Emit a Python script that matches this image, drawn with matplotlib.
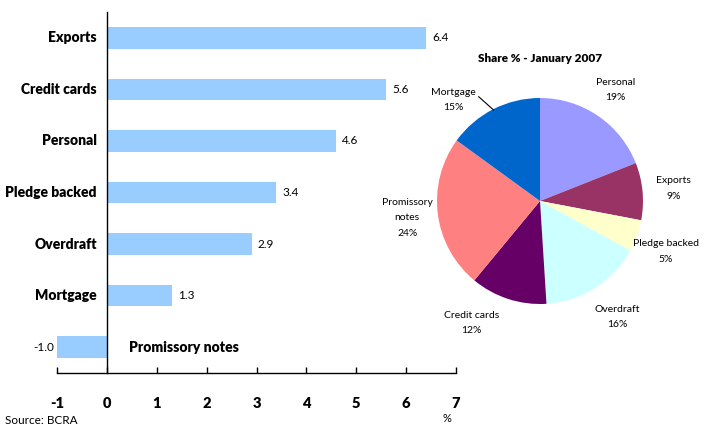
import numpy as np
import matplotlib.pyplot as plt

plt.rcParams['font.family'] = ['Lato', 'DejaVu Sans']

# change by credit line (%)
categorias = ["Exports", "Credit cards", "Personal", "Pledge backed",
              "Overdraft", "Mortgage", "Promissory notes"]
variacion = [6.4, 5.6, 4.6, 3.4, 2.9, 1.3, -1.0]

# share of the stock, January 2007
pie_nombres = ["Personal", "Exports", "Pledge backed", "Overdraft",
               "Credit cards", "Promissory\nnotes", "Mortgage"]
pie_share = [19, 9, 5, 16, 12, 24, 15]
pie_colores = ["#9999FF", "#993366", "#FFFFCC", "#CCFFFF",
               "#660066", "#FF8080", "#0066CC"]

W, H = 704, 426
fig = plt.figure(figsize=(W / 100, H / 100), dpi=100)

# --- bar chart ---
ax = fig.add_axes([57 / W, 53 / H, 399 / W, 361 / H])
pos = np.arange(len(categorias))[::-1]
ax.barh(pos, variacion, height=0.42, color="#99CCFF")
ax.set_xlim(-1, 7)
ax.set_ylim(-0.5, 6.5)
ax.set_xticks(range(-1, 8))
ax.set_xticklabels(["-1"] + [str(i) for i in range(0, 8)],
                   fontsize=10.5, fontweight="heavy")
ax.set_yticks([])
ax.spines["left"].set_position(("data", 0))
ax.spines["top"].set_visible(False)
ax.spines["right"].set_visible(False)
ax.spines["left"].set_linewidth(1.0)
ax.spines["bottom"].set_linewidth(1.0)
ax.tick_params(axis="x", direction="in", length=4, width=1, pad=17.5)

for y, nombre, v in zip(pos, categorias, variacion):
    if v >= 0:
        ax.text(-0.2, y, nombre, ha="right", va="center",
                fontsize=10, fontweight="heavy")
        ax.text(v + 0.12, y, f"{v:.1f}", ha="left", va="center", fontsize=8.5)
    else:
        ax.text(0.45, y, nombre, ha="left", va="center",
                fontsize=10, fontweight="heavy")
        ax.text(v - 0.05, y, f"{v:.1f}", ha="right", va="center", fontsize=8.5)

fig.text(447 / W, 1 - 418 / H, "%", ha="center", va="center", fontsize=8)
fig.text(5 / W, 1 - 420 / H, "Source: BCRA", ha="left", va="center", fontsize=8.5)

# --- pie chart ---
r_px = 103
cx, cy = 540, 201
lado = 2.5 * r_px
axp = fig.add_axes([(cx - lado / 2) / W, (H - cy - lado / 2) / H, lado / W, lado / H])
wedges, _ = axp.pie(pie_share, colors=pie_colores, startangle=90,
                    counterclock=False, wedgeprops=dict(linewidth=0))

# small nudges for labels that sit off the default radius
ajustes = {"Credit cards": (-0.26, 0.05), "Pledge backed": (0.0, -0.05),
           "Overdraft": (0.05, -0.03)}

for w, nombre, s in zip(wedges, pie_nombres, pie_share):
    mid = np.deg2rad((w.theta1 + w.theta2) / 2)
    etiqueta = f"{nombre}\n{s}%"
    if nombre == "Mortgage":
        tx, ty = 1.3 * np.cos(mid) - 0.25, 1.3 * np.sin(mid) - 0.18
        axp.annotate(etiqueta, xy=(np.cos(mid) * 0.99, np.sin(mid) * 0.99),
                     xytext=(tx, ty), ha="center", va="center", fontsize=7.5,
                     linespacing=1.9,
                     arrowprops=dict(arrowstyle="-", lw=0.8, color="black",
                                     shrinkA=0, shrinkB=0,
                                     relpos=(1.0, 0.75)))
    else:
        dx, dy = ajustes.get(nombre, (0, 0))
        axp.text(1.3 * np.cos(mid) + dx, 1.3 * np.sin(mid) + dy, etiqueta,
                 ha="center", va="center", fontsize=7.5, linespacing=1.9)

fig.text(cx / W, 1 - 58 / H, "Share % - January 2007", ha="center",
         va="center", fontsize=8.5, fontweight="heavy")

fig.savefig("out.png", dpi=100)
